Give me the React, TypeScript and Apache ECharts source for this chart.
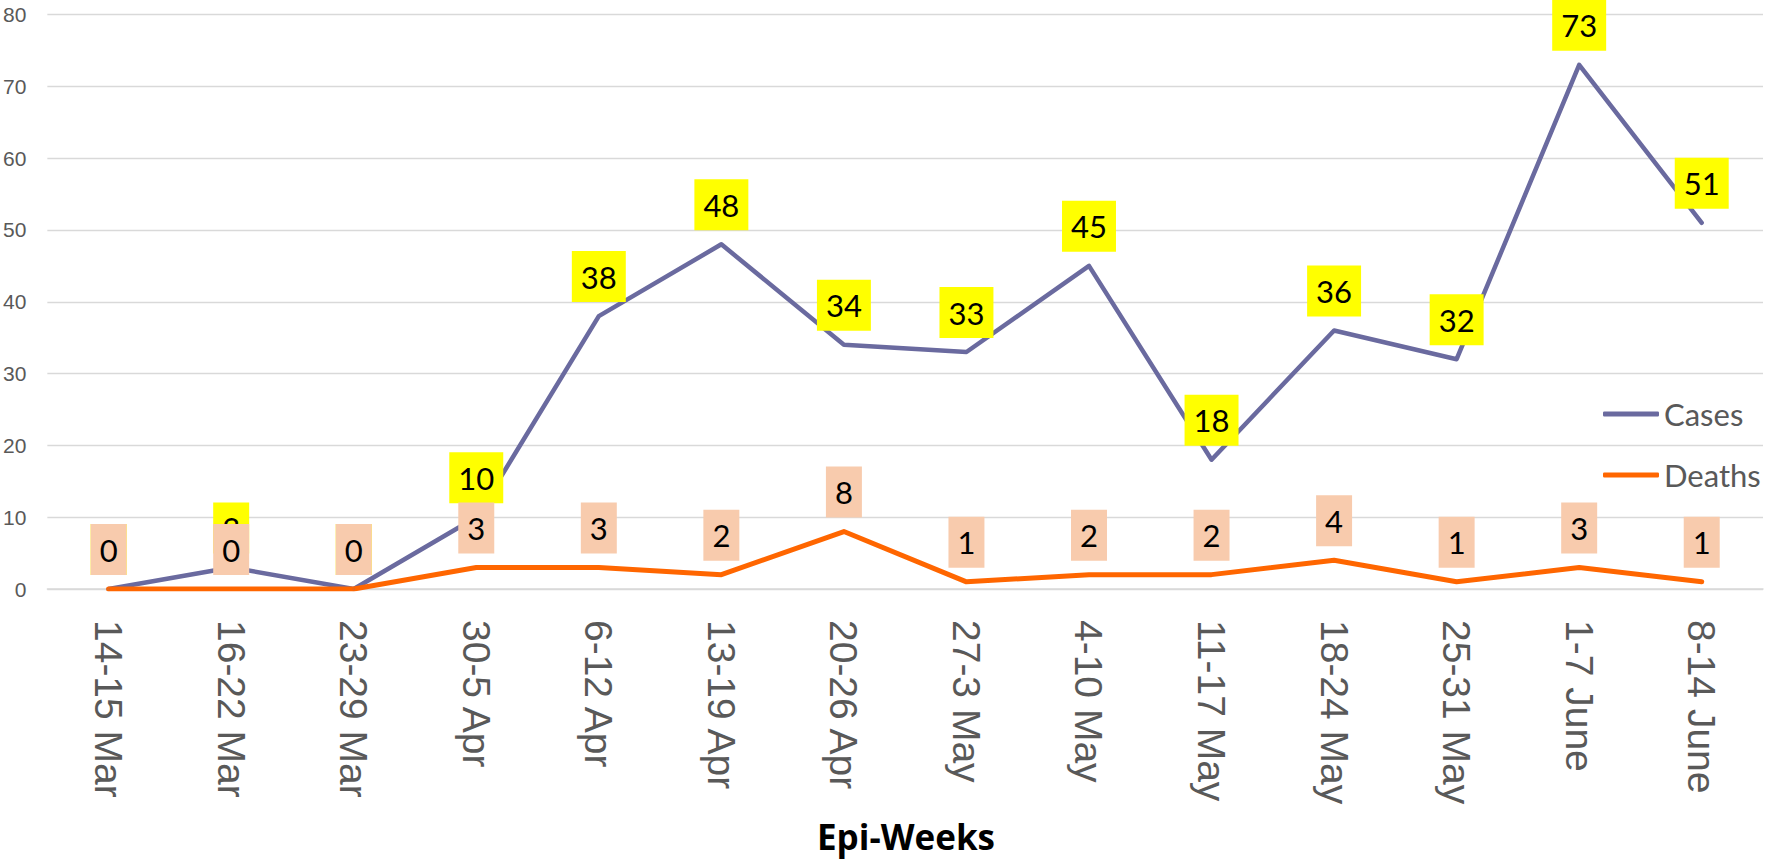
import React, { useEffect, useRef } from "react";
import * as echarts from "echarts";

const categories = [
  "14-15 Mar", "16-22 Mar", "23-29 Mar", "30-5 Apr", "6-12 Apr", "13-19 Apr", "20-26 Apr",
  "27-3 May", "4-10 May", "11-17 May", "18-24 May", "25-31 May", "1-7 June", "8-14 June",
];
const cases = [0, 3, 0, 10, 38, 48, 34, 33, 45, 18, 36, 32, 73, 51];
const deaths = [0, 0, 0, 3, 3, 2, 8, 1, 2, 2, 4, 1, 3, 1];
const yTicks = { min: 0, max: 80, interval: 10 };

const CASES_COLOR = "#6a6a9f";
const DEATHS_COLOR = "#ff6600";

export default function App() {
  const ref = useRef<HTMLDivElement>(null);
  useEffect(() => {
    if (!ref.current) return;
    const chart = echarts.init(ref.current, null, { renderer: "svg" });
    const labelBase = {
      show: true,
      position: "top",
      distance: 13,
      color: "#000",
      fontFamily: "Lato",
      fontSize: 31,
      lineHeight: 31,
      padding: [10, 9, 10, 9],
    };
    chart.setOption({
      animation: false,
      backgroundColor: "#fff",
      grid: { left: 46, right: 3, top: 14.5, bottom: 272, containLabel: false },
      legend: {
        orient: "vertical",
        left: 1598,
        top: 389,
        itemWidth: 56,
        itemHeight: 5,
        itemGap: 21,
        icon: "roundRect",
        textStyle: { color: "#595959", fontFamily: "Lato", fontSize: 31, lineHeight: 40 },
        data: [
          { name: "Cases", itemStyle: { color: CASES_COLOR } },
          { name: "Deaths", itemStyle: { color: DEATHS_COLOR } },
        ],
      },
      xAxis: {
        type: "category",
        data: categories,
        boundaryGap: true,
        axisLine: { show: true, lineStyle: { color: "#d9d9d9", width: 1.5 } },
        axisTick: { show: false },
        axisLabel: {
          interval: 0,
          rotate: -90,
          margin: 31,
          color: "#595959",
          fontFamily: "Liberation Sans",
          fontSize: 39,
        },
      },
      yAxis: {
        type: "value",
        min: yTicks.min,
        max: yTicks.max,
        interval: yTicks.interval,
        axisLine: { show: false },
        axisTick: { show: false },
        splitLine: { lineStyle: { color: "#d9d9d9", width: 1.3 } },
        axisLabel: {
          margin: 21,
          color: "#595959",
          fontFamily: "Liberation Sans",
          fontSize: 21,
        },
      },
      graphic: [
        {
          type: "text",
          x: 906,
          y: 836,
          style: {
            text: "Epi-Weeks",
            fill: "#000",
            fontFamily: "Open Sans",
            fontWeight: "bold",
            fontSize: 35,
            textAlign: "center",
            textVerticalAlign: "middle",
          },
        },
      ],
      series: [
        {
          name: "Cases",
          type: "line",
          data: cases,
          symbol: "circle",
          symbolSize: 2,
          showSymbol: true,
          itemStyle: { color: CASES_COLOR },
          lineStyle: { color: CASES_COLOR, width: 4.5, cap: "round", join: "round" },
          label: { ...labelBase, backgroundColor: "#ffff00" },
        },
        {
          name: "Deaths",
          type: "line",
          data: deaths,
          symbol: "circle",
          symbolSize: 2,
          showSymbol: true,
          itemStyle: { color: DEATHS_COLOR },
          lineStyle: { color: DEATHS_COLOR, width: 5, cap: "round", join: "round" },
          label: { ...labelBase, backgroundColor: "#f8cbad" },
        },
      ],
    });
    return () => chart.dispose();
  }, []);
  return (
    <div
      ref={ref}
      style={{ position: "fixed", left: 0, top: 0, width: 1766, height: 861 }}
    />
  );
}
